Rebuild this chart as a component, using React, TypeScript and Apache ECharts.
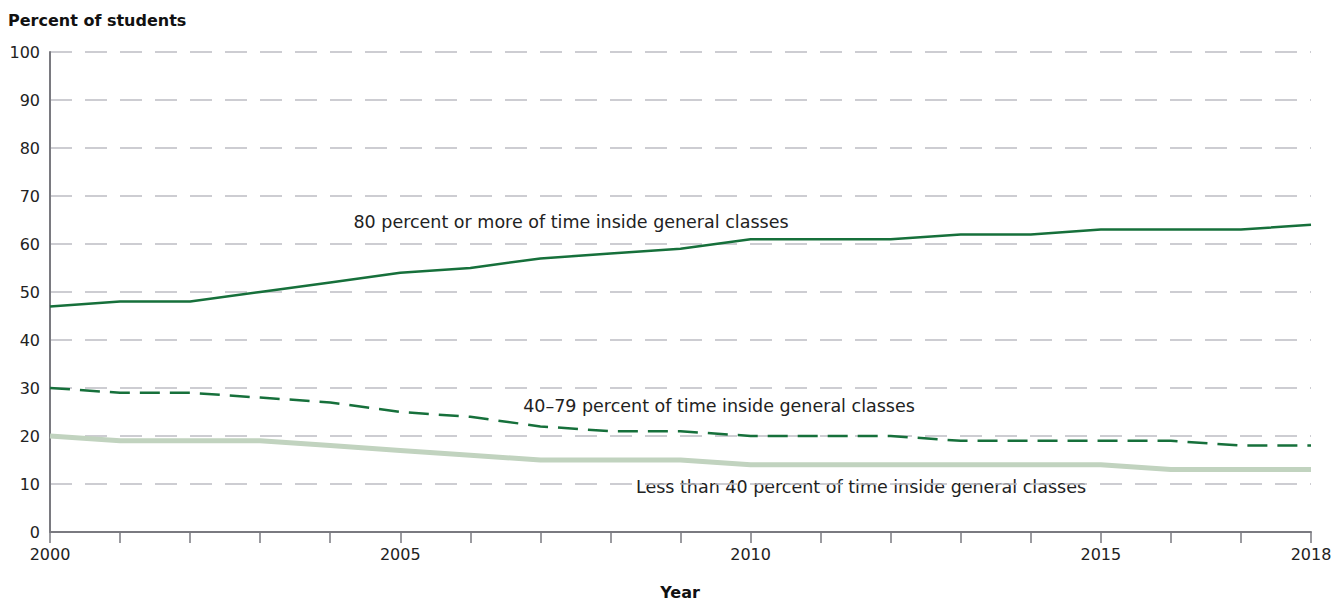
import React, { useEffect, useRef } from "react";
import * as echarts from "echarts";

const years = [2000, 2001, 2002, 2003, 2004, 2005, 2006, 2007, 2008, 2009, 2010, 2011, 2012, 2013, 2014, 2015, 2016, 2017, 2018];
const high = [47, 48, 48, 50, 52, 54, 55, 57, 58, 59, 61, 61, 61, 62, 62, 63, 63, 63, 64];
const mid = [30, 29, 29, 28, 27, 25, 24, 22, 21, 21, 20, 20, 20, 19, 19, 19, 19, 18, 18];
const low = [20, 19, 19, 19, 18, 17, 16, 15, 15, 15, 14, 14, 14, 14, 14, 14, 13, 13, 13];
const labeledYears = [2000, 2005, 2010, 2015, 2018];
const seriesNames = [
  "80 percent or more of time inside general classes",
  "40\u201379 percent of time inside general classes",
  "Less than 40 percent of time inside general classes",
];

const FONT = "'DejaVu Sans'";

export default function App() {
  const ref = useRef<HTMLDivElement>(null);
  useEffect(() => {
    document.body.style.margin = "0";
    const chart = echarts.init(ref.current!, null, { renderer: "svg" });
    const pair = (arr: number[]) => years.map((y, i) => [y, arr[i]]);
    chart.setOption({
      animation: false,
      grid: { left: 50, right: 33, top: 52, bottom: 70 },
      xAxis: {
        type: "value",
        min: 2000,
        max: 2018,
        interval: 1,
        axisLine: { lineStyle: { color: "#7a7a80", width: 2 } },
        axisTick: { show: true, length: 11, lineStyle: { color: "#7a7a80", width: 1.5 } },
        axisLabel: {
          color: "#222",
          fontSize: 16,
          fontFamily: FONT,
          margin: 14,
          formatter: (v: number) => (labeledYears.includes(v) ? String(v) : ""),
        },
        splitLine: { show: false },
      },
      yAxis: {
        type: "value",
        min: 0,
        max: 100,
        interval: 10,
        axisLine: { show: true, lineStyle: { color: "#7a7a80", width: 2 } },
        axisTick: { show: false },
        axisLabel: { color: "#222", fontSize: 16, fontFamily: FONT, margin: 10 },
        splitLine: { lineStyle: { color: "#bdbdc4", width: 1.5, type: [22, 13] } },
      },
      series: [
        {
          name: seriesNames[2],
          type: "line",
          data: pair(low),
          symbol: "none",
          lineStyle: { color: "#c1d3bf", width: 5 },
          z: 3,
        },
        {
          name: seriesNames[1],
          type: "line",
          data: pair(mid),
          symbol: "none",
          lineStyle: { color: "#16703b", width: 2.5, type: [20, 10] },
          z: 4,
        },
        {
          name: seriesNames[0],
          type: "line",
          data: pair(high),
          symbol: "none",
          lineStyle: { color: "#16703b", width: 2.5 },
          z: 5,
        },
      ],
      graphic: [
        { type: "text", x: 8, y: 20, style: { text: "Percent of students", font: `bold 16px ${FONT}`, fill: "#111", verticalAlign: "middle" } },
        { type: "text", x: 680, y: 592, style: { text: "Year", font: `bold 16px ${FONT}`, fill: "#111", align: "center", verticalAlign: "middle" } },
        { type: "text", x: 571, y: 222, style: { text: seriesNames[0], font: `17.5px ${FONT}`, fill: "#222", align: "center", verticalAlign: "middle" } },
        { type: "text", x: 719, y: 406, style: { text: seriesNames[1], font: `17.5px ${FONT}`, fill: "#222", align: "center", verticalAlign: "middle" } },
        { type: "text", x: 861, y: 487, style: { text: seriesNames[2], font: `17.5px ${FONT}`, fill: "#222", align: "center", verticalAlign: "middle" } },
      ],
    });
    return () => chart.dispose();
  }, []);
  return <div ref={ref} style={{ width: 1344, height: 602 }} />;
}
